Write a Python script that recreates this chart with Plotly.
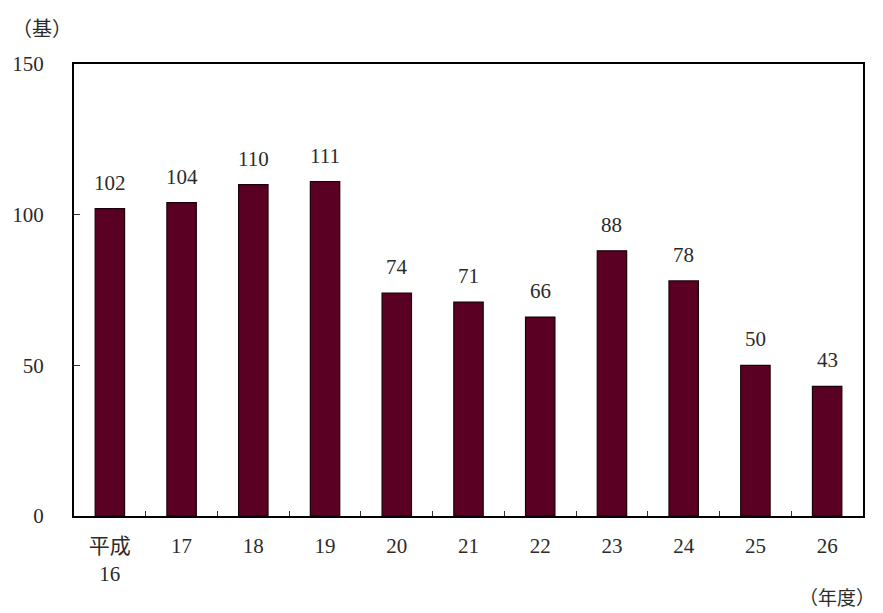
import plotly.graph_objects as go

categories = ["平成<br>16", "17", "18", "19", "20", "21", "22", "23", "24", "25", "26"]
values = [102, 104, 110, 111, 74, 71, 66, 88, 78, 50, 43]
y_ticks = [0, 50, 100, 150]

FONT = "Liberation Serif, Noto Sans CJK JP, serif"
TXT = "#2b2b2b"

W, H = 883, 613
ML, MR, MT, MB = 74, 20, 64, 97
plot_w = W - ML - MR
plot_h = H - MT - MB

fig = go.Figure()
fig.add_trace(go.Bar(
    x=categories, y=values,
    marker=dict(color="#5a0022", line=dict(color="#1a0008", width=1.2)),
    width=0.41,
))

for i, v in enumerate(values):
    fig.add_annotation(x=i, y=v, text=str(v), showarrow=False,
                       xref="x", yref="y", yanchor="bottom", yshift=12,
                       font=dict(family=FONT, size=21, color=TXT))

fig.add_annotation(x=(10 - ML) / plot_w, y=(H - MB - 27) / plot_h, xref="paper", yref="paper",
                   text="（基）", showarrow=False, xanchor="left", yanchor="middle",
                   font=dict(family="Noto Sans CJK JP", size=20, color=TXT))
fig.add_annotation(x=(876 - ML) / plot_w, y=(H - MB - 596) / plot_h, xref="paper", yref="paper",
                   text="（年度）", showarrow=False, xanchor="right", yanchor="middle",
                   borderpad=0,
                   font=dict(family="Noto Sans CJK JP", size=19, color=TXT))

fig.update_layout(
    width=W, height=H,
    margin=dict(l=ML, r=MR, t=MT, b=MB),
    paper_bgcolor="white", plot_bgcolor="white",
    showlegend=False,
    font=dict(family=FONT, size=20, color=TXT),
    xaxis=dict(type="category", range=[-0.5, len(categories) - 0.5],
               showline=True, linecolor="black", linewidth=2, mirror=True,
               ticks="inside", ticklen=5, tickcolor="#333", tickson="boundaries",
               showgrid=False, ticklabelstandoff=10, tickangle=0,
               tickfont=dict(family=FONT, size=21, color=TXT)),
    yaxis=dict(range=[0, 150], tickvals=y_ticks, showline=True, linecolor="black",
               linewidth=2, mirror=True, ticks="inside", ticklen=6, tickcolor="#333",
               showgrid=False, zeroline=False, ticklabelstandoff=24,
               tickfont=dict(family=FONT, size=21, color=TXT)),
)
fig.write_html("out.html")
